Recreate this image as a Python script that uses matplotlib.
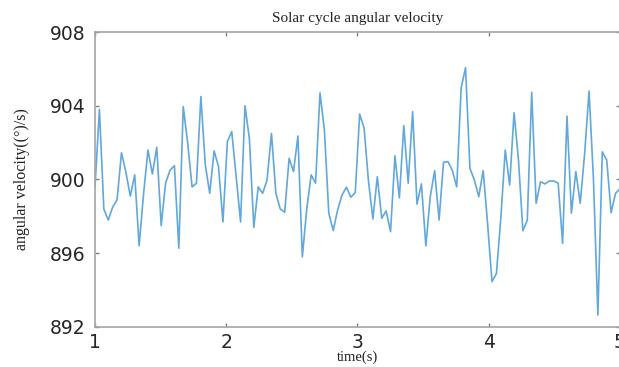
import numpy as np
import matplotlib
matplotlib.use("Agg")
import matplotlib.pyplot as plt

# angular velocity samples (deg/s), evenly spaced in time from 1 s to 5 s
velocity = [
    899.6, 903.8, 898.4, 897.8, 898.5, 898.9, 901.45, 900.4, 899.1, 900.25,
    896.4, 899.2, 901.6, 900.3, 901.75, 897.5, 899.8, 900.5, 900.75, 896.27,
    903.95, 902.0, 899.6, 899.8, 904.5, 900.8, 899.25, 901.55, 900.7, 897.7,
    902.05, 902.6, 900.15, 897.7, 904.0, 902.2, 897.4, 899.6, 899.25, 899.97,
    902.5, 899.25, 898.4, 898.22, 901.15, 900.43, 902.36, 895.8, 898.4, 900.25,
    899.8, 904.7, 902.7, 898.17, 897.23, 898.35, 899.16, 899.58, 899.04, 899.29,
    903.55, 902.78, 899.9, 897.86, 900.15, 897.9, 898.3, 897.17, 901.28, 899.0,
    902.92, 899.8, 903.68, 898.66, 899.76, 896.4, 899.07, 900.48, 897.8, 900.93,
    900.97, 900.5, 899.6, 904.95, 906.07, 900.6, 899.97, 899.07, 900.48, 897.6,
    894.46, 894.9, 897.9, 901.6, 899.7, 903.62, 901.06, 897.22, 897.8, 904.73,
    898.71, 899.88, 899.76, 899.92, 899.92, 899.8, 896.54, 903.44, 898.17, 900.43,
    898.71, 901.4, 904.8, 900.0, 892.65, 901.5, 901.06, 898.2, 899.25, 899.5,
]
t_start, t_end = 1, 5
x_ticks = [1, 2, 3, 4, 5]
y_ticks = [892, 896, 900, 904, 908]

time = np.linspace(t_start, t_end, len(velocity))

fig = plt.figure(figsize=(6.19, 3.67), dpi=100)
ax = fig.add_axes([0.1535, 0.109, 0.8480, 0.8038])
ax.plot(time, velocity, color="#62a8da", linewidth=1.2)

ax.set_xlim(t_start, t_end)
ax.set_ylim(892, 908)
ax.set_xticks(x_ticks)
ax.set_yticks(y_ticks)
ax.set_xticklabels([str(v) for v in x_ticks])
ax.set_yticklabels([str(v) for v in y_ticks])

for s in ax.spines.values():
    s.set_color("#a6a6a6")
    s.set_linewidth(1.2)

ax.tick_params(direction="in", top=True, right=True, length=3, width=1,
               color="#808080", labelsize=13.5, labelcolor="#262626", pad=7)
ax.tick_params(axis="x", pad=4)
for lab in ax.get_xticklabels() + ax.get_yticklabels():
    lab.set_family("DejaVu Sans")

serif = "Liberation Serif"
ax.set_title("Solar cycle angular velocity", family=serif, fontsize=11,
             color="#222222", pad=7)
ax.set_xlabel("time(s)", family=serif, fontsize=10.5, color="#222222", labelpad=-1)
ax.set_ylabel("angular velocity((°)/s)", family=serif, fontsize=11.5,
              color="#222222", labelpad=14)

fig.savefig("out.png", dpi=100)
